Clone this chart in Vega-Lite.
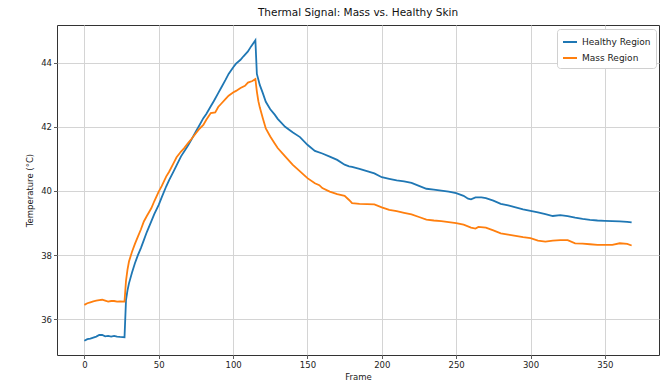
{
  "$schema": "https://vega.github.io/schema/vega-lite/v6.json",
  "autosize": {"type": "none"},
  "padding": {"left": 57, "top": 25, "right": 7, "bottom": 29},
  "width": 602,
  "height": 330,
  "background": "white",
  "title": {"text": "Thermal Signal: Mass vs. Healthy Skin", "fontSize": 10.5, "font": "DejaVu Sans", "fontWeight": "normal", "color": "#111", "offset": 7, "anchor": "middle"},
  "config": {
    "view": {"stroke": "#333", "strokeWidth": 1},
    "axis": {"labelFont": "DejaVu Sans", "titleFont": "DejaVu Sans", "labelFontSize": 8.5, "titleFontSize": 8.5, "titleFontWeight": "normal", "labelColor": "#222", "titleColor": "#222", "gridColor": "#d4d4d4", "gridWidth": 1, "tickColor": "#333", "tickSize": 3.5, "tickWidth": 0.8, "domain": false, "labelPadding": 2},
    "legend": {"labelFont": "DejaVu Sans", "labelFontSize": 8.5, "labelColor": "#222"}
  },
  "data": {"values": [
    {"frame":0,"temp":35.33,"region":"Healthy Region"},{"frame":2,"temp":35.38,"region":"Healthy Region"},{"frame":4,"temp":35.40,"region":"Healthy Region"},{"frame":6,"temp":35.43,"region":"Healthy Region"},{"frame":8,"temp":35.46,"region":"Healthy Region"},{"frame":10,"temp":35.51,"region":"Healthy Region"},{"frame":12,"temp":35.51,"region":"Healthy Region"},{"frame":14,"temp":35.47,"region":"Healthy Region"},{"frame":16,"temp":35.48,"region":"Healthy Region"},{"frame":18,"temp":35.46,"region":"Healthy Region"},{"frame":20,"temp":35.48,"region":"Healthy Region"},{"frame":22,"temp":35.46,"region":"Healthy Region"},{"frame":24,"temp":35.45,"region":"Healthy Region"},{"frame":27,"temp":35.44,"region":"Healthy Region"},{"frame":28,"temp":36.6,"region":"Healthy Region"},{"frame":29,"temp":36.9,"region":"Healthy Region"},{"frame":30,"temp":37.12,"region":"Healthy Region"},{"frame":32,"temp":37.45,"region":"Healthy Region"},{"frame":34,"temp":37.75,"region":"Healthy Region"},{"frame":36,"temp":38.0,"region":"Healthy Region"},{"frame":38,"temp":38.22,"region":"Healthy Region"},{"frame":40,"temp":38.47,"region":"Healthy Region"},{"frame":42,"temp":38.72,"region":"Healthy Region"},{"frame":45,"temp":39.05,"region":"Healthy Region"},{"frame":47,"temp":39.28,"region":"Healthy Region"},{"frame":50,"temp":39.57,"region":"Healthy Region"},{"frame":52,"temp":39.8,"region":"Healthy Region"},{"frame":55,"temp":40.14,"region":"Healthy Region"},{"frame":57,"temp":40.34,"region":"Healthy Region"},{"frame":60,"temp":40.61,"region":"Healthy Region"},{"frame":62,"temp":40.80,"region":"Healthy Region"},{"frame":65,"temp":41.08,"region":"Healthy Region"},{"frame":67,"temp":41.22,"region":"Healthy Region"},{"frame":70,"temp":41.44,"region":"Healthy Region"},{"frame":72,"temp":41.60,"region":"Healthy Region"},{"frame":75,"temp":41.86,"region":"Healthy Region"},{"frame":77,"temp":42.02,"region":"Healthy Region"},{"frame":80,"temp":42.27,"region":"Healthy Region"},{"frame":82,"temp":42.40,"region":"Healthy Region"},{"frame":85,"temp":42.64,"region":"Healthy Region"},{"frame":87,"temp":42.80,"region":"Healthy Region"},{"frame":90,"temp":43.05,"region":"Healthy Region"},{"frame":92,"temp":43.22,"region":"Healthy Region"},{"frame":95,"temp":43.47,"region":"Healthy Region"},{"frame":97,"temp":43.65,"region":"Healthy Region"},{"frame":100,"temp":43.85,"region":"Healthy Region"},{"frame":102,"temp":43.97,"region":"Healthy Region"},{"frame":105,"temp":44.09,"region":"Healthy Region"},{"frame":107,"temp":44.20,"region":"Healthy Region"},{"frame":110,"temp":44.35,"region":"Healthy Region"},{"frame":112,"temp":44.50,"region":"Healthy Region"},{"frame":115,"temp":44.70,"region":"Healthy Region"},{"frame":116,"temp":43.65,"region":"Healthy Region"},{"frame":118,"temp":43.30,"region":"Healthy Region"},{"frame":120,"temp":43.05,"region":"Healthy Region"},{"frame":122,"temp":42.78,"region":"Healthy Region"},{"frame":125,"temp":42.55,"region":"Healthy Region"},{"frame":128,"temp":42.38,"region":"Healthy Region"},{"frame":130,"temp":42.25,"region":"Healthy Region"},{"frame":135,"temp":42.00,"region":"Healthy Region"},{"frame":140,"temp":41.83,"region":"Healthy Region"},{"frame":145,"temp":41.68,"region":"Healthy Region"},{"frame":150,"temp":41.44,"region":"Healthy Region"},{"frame":155,"temp":41.25,"region":"Healthy Region"},{"frame":160,"temp":41.17,"region":"Healthy Region"},{"frame":165,"temp":41.07,"region":"Healthy Region"},{"frame":170,"temp":40.97,"region":"Healthy Region"},{"frame":175,"temp":40.82,"region":"Healthy Region"},{"frame":178,"temp":40.77,"region":"Healthy Region"},{"frame":180,"temp":40.75,"region":"Healthy Region"},{"frame":185,"temp":40.69,"region":"Healthy Region"},{"frame":190,"temp":40.62,"region":"Healthy Region"},{"frame":195,"temp":40.55,"region":"Healthy Region"},{"frame":200,"temp":40.43,"region":"Healthy Region"},{"frame":205,"temp":40.38,"region":"Healthy Region"},{"frame":210,"temp":40.33,"region":"Healthy Region"},{"frame":215,"temp":40.30,"region":"Healthy Region"},{"frame":220,"temp":40.25,"region":"Healthy Region"},{"frame":225,"temp":40.16,"region":"Healthy Region"},{"frame":230,"temp":40.07,"region":"Healthy Region"},{"frame":235,"temp":40.04,"region":"Healthy Region"},{"frame":240,"temp":40.01,"region":"Healthy Region"},{"frame":245,"temp":39.98,"region":"Healthy Region"},{"frame":250,"temp":39.93,"region":"Healthy Region"},{"frame":255,"temp":39.85,"region":"Healthy Region"},{"frame":258,"temp":39.76,"region":"Healthy Region"},{"frame":260,"temp":39.74,"region":"Healthy Region"},{"frame":263,"temp":39.80,"region":"Healthy Region"},{"frame":267,"temp":39.80,"region":"Healthy Region"},{"frame":270,"temp":39.78,"region":"Healthy Region"},{"frame":275,"temp":39.70,"region":"Healthy Region"},{"frame":280,"temp":39.60,"region":"Healthy Region"},{"frame":285,"temp":39.55,"region":"Healthy Region"},{"frame":290,"temp":39.49,"region":"Healthy Region"},{"frame":295,"temp":39.43,"region":"Healthy Region"},{"frame":300,"temp":39.38,"region":"Healthy Region"},{"frame":305,"temp":39.33,"region":"Healthy Region"},{"frame":310,"temp":39.28,"region":"Healthy Region"},{"frame":315,"temp":39.22,"region":"Healthy Region"},{"frame":320,"temp":39.25,"region":"Healthy Region"},{"frame":325,"temp":39.22,"region":"Healthy Region"},{"frame":330,"temp":39.17,"region":"Healthy Region"},{"frame":335,"temp":39.13,"region":"Healthy Region"},{"frame":340,"temp":39.10,"region":"Healthy Region"},{"frame":345,"temp":39.08,"region":"Healthy Region"},{"frame":350,"temp":39.07,"region":"Healthy Region"},{"frame":355,"temp":39.06,"region":"Healthy Region"},{"frame":360,"temp":39.05,"region":"Healthy Region"},{"frame":365,"temp":39.04,"region":"Healthy Region"},{"frame":368,"temp":39.02,"region":"Healthy Region"},
    {"frame":0,"temp":36.45,"region":"Mass Region"},{"frame":2,"temp":36.50,"region":"Mass Region"},{"frame":4,"temp":36.53,"region":"Mass Region"},{"frame":6,"temp":36.56,"region":"Mass Region"},{"frame":8,"temp":36.58,"region":"Mass Region"},{"frame":10,"temp":36.60,"region":"Mass Region"},{"frame":12,"temp":36.61,"region":"Mass Region"},{"frame":14,"temp":36.58,"region":"Mass Region"},{"frame":16,"temp":36.55,"region":"Mass Region"},{"frame":18,"temp":36.57,"region":"Mass Region"},{"frame":20,"temp":36.57,"region":"Mass Region"},{"frame":22,"temp":36.55,"region":"Mass Region"},{"frame":24,"temp":36.56,"region":"Mass Region"},{"frame":27,"temp":36.55,"region":"Mass Region"},{"frame":28,"temp":37.2,"region":"Mass Region"},{"frame":29,"temp":37.55,"region":"Mass Region"},{"frame":30,"temp":37.8,"region":"Mass Region"},{"frame":32,"temp":38.1,"region":"Mass Region"},{"frame":34,"temp":38.35,"region":"Mass Region"},{"frame":36,"temp":38.58,"region":"Mass Region"},{"frame":38,"temp":38.8,"region":"Mass Region"},{"frame":40,"temp":39.05,"region":"Mass Region"},{"frame":42,"temp":39.22,"region":"Mass Region"},{"frame":45,"temp":39.46,"region":"Mass Region"},{"frame":47,"temp":39.68,"region":"Mass Region"},{"frame":50,"temp":39.98,"region":"Mass Region"},{"frame":52,"temp":40.15,"region":"Mass Region"},{"frame":55,"temp":40.45,"region":"Mass Region"},{"frame":57,"temp":40.60,"region":"Mass Region"},{"frame":60,"temp":40.87,"region":"Mass Region"},{"frame":62,"temp":41.05,"region":"Mass Region"},{"frame":65,"temp":41.23,"region":"Mass Region"},{"frame":67,"temp":41.33,"region":"Mass Region"},{"frame":70,"temp":41.51,"region":"Mass Region"},{"frame":72,"temp":41.62,"region":"Mass Region"},{"frame":75,"temp":41.80,"region":"Mass Region"},{"frame":77,"temp":41.92,"region":"Mass Region"},{"frame":80,"temp":42.06,"region":"Mass Region"},{"frame":82,"temp":42.22,"region":"Mass Region"},{"frame":85,"temp":42.43,"region":"Mass Region"},{"frame":88,"temp":42.45,"region":"Mass Region"},{"frame":90,"temp":42.62,"region":"Mass Region"},{"frame":92,"temp":42.72,"region":"Mass Region"},{"frame":95,"temp":42.87,"region":"Mass Region"},{"frame":97,"temp":42.97,"region":"Mass Region"},{"frame":100,"temp":43.07,"region":"Mass Region"},{"frame":102,"temp":43.12,"region":"Mass Region"},{"frame":105,"temp":43.21,"region":"Mass Region"},{"frame":108,"temp":43.28,"region":"Mass Region"},{"frame":110,"temp":43.38,"region":"Mass Region"},{"frame":113,"temp":43.43,"region":"Mass Region"},{"frame":115,"temp":43.49,"region":"Mass Region"},{"frame":116,"temp":43.1,"region":"Mass Region"},{"frame":117,"temp":42.8,"region":"Mass Region"},{"frame":118,"temp":42.6,"region":"Mass Region"},{"frame":120,"temp":42.27,"region":"Mass Region"},{"frame":122,"temp":41.95,"region":"Mass Region"},{"frame":125,"temp":41.70,"region":"Mass Region"},{"frame":128,"temp":41.48,"region":"Mass Region"},{"frame":130,"temp":41.34,"region":"Mass Region"},{"frame":135,"temp":41.08,"region":"Mass Region"},{"frame":140,"temp":40.82,"region":"Mass Region"},{"frame":145,"temp":40.61,"region":"Mass Region"},{"frame":150,"temp":40.40,"region":"Mass Region"},{"frame":155,"temp":40.24,"region":"Mass Region"},{"frame":158,"temp":40.18,"region":"Mass Region"},{"frame":160,"temp":40.09,"region":"Mass Region"},{"frame":165,"temp":39.98,"region":"Mass Region"},{"frame":170,"temp":39.90,"region":"Mass Region"},{"frame":175,"temp":39.85,"region":"Mass Region"},{"frame":178,"temp":39.72,"region":"Mass Region"},{"frame":180,"temp":39.62,"region":"Mass Region"},{"frame":185,"temp":39.60,"region":"Mass Region"},{"frame":190,"temp":39.59,"region":"Mass Region"},{"frame":195,"temp":39.58,"region":"Mass Region"},{"frame":200,"temp":39.49,"region":"Mass Region"},{"frame":205,"temp":39.41,"region":"Mass Region"},{"frame":210,"temp":39.37,"region":"Mass Region"},{"frame":215,"temp":39.32,"region":"Mass Region"},{"frame":220,"temp":39.27,"region":"Mass Region"},{"frame":225,"temp":39.19,"region":"Mass Region"},{"frame":230,"temp":39.11,"region":"Mass Region"},{"frame":235,"temp":39.08,"region":"Mass Region"},{"frame":240,"temp":39.06,"region":"Mass Region"},{"frame":245,"temp":39.03,"region":"Mass Region"},{"frame":250,"temp":39.00,"region":"Mass Region"},{"frame":255,"temp":38.95,"region":"Mass Region"},{"frame":260,"temp":38.86,"region":"Mass Region"},{"frame":263,"temp":38.83,"region":"Mass Region"},{"frame":265,"temp":38.88,"region":"Mass Region"},{"frame":270,"temp":38.86,"region":"Mass Region"},{"frame":275,"temp":38.77,"region":"Mass Region"},{"frame":280,"temp":38.68,"region":"Mass Region"},{"frame":285,"temp":38.64,"region":"Mass Region"},{"frame":290,"temp":38.60,"region":"Mass Region"},{"frame":295,"temp":38.56,"region":"Mass Region"},{"frame":300,"temp":38.53,"region":"Mass Region"},{"frame":305,"temp":38.45,"region":"Mass Region"},{"frame":310,"temp":38.42,"region":"Mass Region"},{"frame":315,"temp":38.45,"region":"Mass Region"},{"frame":320,"temp":38.47,"region":"Mass Region"},{"frame":325,"temp":38.47,"region":"Mass Region"},{"frame":330,"temp":38.37,"region":"Mass Region"},{"frame":335,"temp":38.36,"region":"Mass Region"},{"frame":340,"temp":38.34,"region":"Mass Region"},{"frame":345,"temp":38.32,"region":"Mass Region"},{"frame":350,"temp":38.32,"region":"Mass Region"},{"frame":355,"temp":38.32,"region":"Mass Region"},{"frame":360,"temp":38.37,"region":"Mass Region"},{"frame":365,"temp":38.35,"region":"Mass Region"},{"frame":368,"temp":38.30,"region":"Mass Region"}
  ]},
  "mark": {"type": "line", "strokeWidth": 1.8, "clip": true},
  "encoding": {
    "x": {"field": "frame", "type": "quantitative", "title": "Frame",
      "scale": {"domain": [-18.4, 386.4], "nice": false, "zero": false},
      "axis": {"values": [0, 50, 100, 150, 200, 250, 300, 350], "titlePadding": 3}},
    "y": {"field": "temp", "type": "quantitative", "title": "Temperature (°C)",
      "scale": {"domain": [34.887, 45.175], "nice": false, "zero": false},
      "axis": {"values": [36, 38, 40, 42, 44], "titlePadding": 6}},
    "color": {"field": "region", "type": "nominal",
      "scale": {"domain": ["Healthy Region", "Mass Region"], "range": ["#1f77b4", "#ff7f0e"]},
      "legend": {"title": null, "orient": "none", "legendX": 500, "legendY": 4, "symbolType": "stroke", "symbolSize": 196, "symbolStrokeWidth": 2, "strokeColor": "#d0d0d0", "fillColor": "white", "padding": 5, "cornerRadius": 3, "rowPadding": 3, "labelOffset": 4, "labelFontSize": 9}},
    "order": {"field": "frame", "type": "quantitative"}
  }
}
